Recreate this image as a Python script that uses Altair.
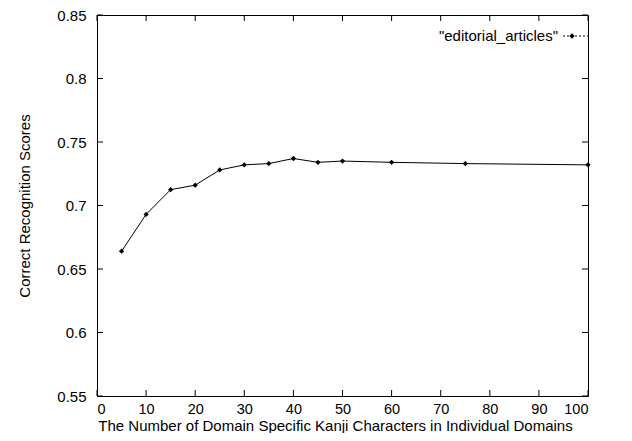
import altair as alt
import pandas as pd

# data
n_chars = [5, 10, 15, 20, 25, 30, 35, 40, 45, 50, 60, 75, 100]
scores = [0.664, 0.693, 0.7125, 0.716, 0.728, 0.732, 0.733, 0.737, 0.734, 0.735, 0.734, 0.733, 0.732]
series_name = '"editorial_articles"'
x_ticks = [0, 10, 20, 30, 40, 50, 60, 70, 80, 90, 100]
y_ticks = [0.55, 0.6, 0.65, 0.7, 0.75, 0.8, 0.85]

W, H = 491, 381
FONT = "Liberation Sans"

df = pd.DataFrame({"x": n_chars, "y": scores})
dfx = pd.DataFrame({"t": x_ticks})
dfy = pd.DataFrame({"t": y_ticks})

xs = alt.Scale(domain=[0, 100], nice=False)
ys = alt.Scale(domain=[0.55, 0.85], nice=False, zero=False)

x_axis = alt.Axis(values=x_ticks, format="d", ticks=False, grid=False, domain=False,
                  labelPadding=6, labelFontSize=14.5, labelFont=FONT, labelColor="black",
                  title="The Number of Domain Specific Kanji Characters in Individual Domains",
                  titleFontSize=15, titleFont=FONT, titleFontWeight="normal", titleColor="black",
                  titleX=238, titleY=22, titleBaseline="top", titleAlign="center")
y_axis = alt.Axis(values=y_ticks, format=".2~f", ticks=False, grid=False, domain=False,
                  labelPadding=11, labelFontSize=15, labelFont=FONT, labelColor="black",
                  title="Correct Recognition Scores",
                  titleFontSize=15, titleFont=FONT, titleFontWeight="normal", titleColor="black",
                  titlePadding=24)

line = alt.Chart(df).mark_line(color="black", strokeWidth=1).encode(
    x=alt.X("x:Q", scale=xs, axis=x_axis),
    y=alt.Y("y:Q", scale=ys, axis=y_axis),
)
pts = alt.Chart(df).mark_point(shape="diamond", filled=True, color="black", size=28, opacity=1).encode(
    x=alt.X("x:Q", scale=xs), y=alt.Y("y:Q", scale=ys)
)

# inward ticks on all four sides
tb = alt.Chart(dfx).mark_rule(color="black", strokeWidth=1).encode(
    x=alt.X("t:Q", scale=xs), y=alt.value(H), y2=alt.value(H - 6))
tt = alt.Chart(dfx).mark_rule(color="black", strokeWidth=1).encode(
    x=alt.X("t:Q", scale=xs), y=alt.value(0), y2=alt.value(6))
tl = alt.Chart(dfy).mark_rule(color="black", strokeWidth=1).encode(
    y=alt.Y("t:Q", scale=ys), x=alt.value(0), x2=alt.value(6))
tr = alt.Chart(dfy).mark_rule(color="black", strokeWidth=1).encode(
    y=alt.Y("t:Q", scale=ys), x=alt.value(W), x2=alt.value(W - 6))

# legend (gnuplot style: label then sample)
leg_df = pd.DataFrame({"label": [series_name]})
leg_text = alt.Chart(leg_df).mark_text(align="right", baseline="middle", fontSize=15, font=FONT,
                                       color="black").encode(
    text="label:N", x=alt.value(461), y=alt.value(21))
leg_line = alt.Chart(leg_df).mark_rule(color="black", strokeWidth=1, strokeDash=[2, 2]).encode(
    x=alt.value(466), x2=alt.value(491), y=alt.value(21))
leg_pt = alt.Chart(leg_df).mark_point(shape="diamond", filled=True, color="black", size=28,
                                      opacity=1).encode(
    x=alt.value(475), y=alt.value(21))

chart = alt.layer(line, pts, tb, tt, tl, tr, leg_text, leg_line, leg_pt).properties(
    width=W, height=H,
    autosize=alt.AutoSizeParams(type="none"),
    padding={"left": 89, "top": 7, "right": 36, "bottom": 37},
    background="white",
).configure_view(stroke="black", strokeWidth=1)

chart.save("out.html", embed_options={"renderer": "svg", "actions": False})
